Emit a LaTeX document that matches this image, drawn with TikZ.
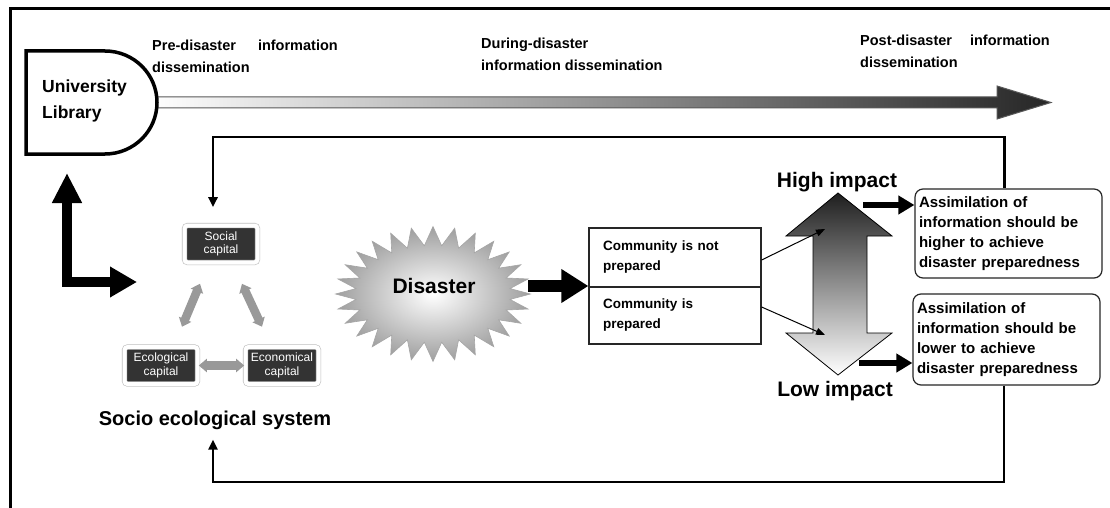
\documentclass[tikz,border=0pt]{standalone}
\usepackage{fontspec}
\setmainfont{Liberation Sans}
\usetikzlibrary{arrows.meta,shadows,calc}
\begin{document}
\begin{tikzpicture}[x=1pt,y=-1pt,
 lbl/.style={font=\bfseries\fontsize{14.5}{22.5}\selectfont, align=left, anchor=base west, inner sep=0pt},
 capbox/.style={fill=black!80, text=white, rounded corners=3pt, draw=gray!50, double=white, double distance=4pt, line width=0.6pt, minimum width=73pt, minimum height=37pt, inner sep=1pt, font=\fontsize{12}{13.5}\selectfont, align=center, drop shadow={opacity=0.3, shadow xshift=1pt, shadow yshift=-1.5pt}},
 grayarr/.style={draw=black!40, line width=8.5pt, {Triangle[length=8pt,width=13pt]}-{Triangle[length=8pt,width=13pt]}},
 loopline/.style={draw=black, line width=2.5pt},
 loopend/.style={-{Triangle[length=10pt,width=9pt]}},
 commbox/.style={draw=black!85, line width=1.2pt, minimum width=172pt, text width=144pt, inner xsep=14pt, align=left, font=\bfseries\fontsize{13.5}{20}\selectfont},
 assim/.style={draw=black!85, line width=1.2pt, rounded corners=8pt, text width=179pt, inner xsep=4pt, minimum height=89pt, align=left, font=\bfseries\fontsize{15}{20}\selectfont},
 impact/.style={font=\bfseries\fontsize{21}{24}\selectfont, inner sep=0pt},
 thickarr/.style={draw=black, line width=6pt, -{Triangle[length=16pt,width=18pt]}},
]
\useasboundingbox (0,0) rectangle (1110,508);
\fill[white] (0,0) rectangle (1110,508);
% frame
\draw[line width=3pt] (10,508) -- (10,8.5) -- (1110,8.5);

% top labels (anchor at baseline of last line)
\node[lbl] (pre) at (152,73) {Pre-disaster\hspace{22pt}information\\dissemination};
\node[lbl] (dur) at (481,71) {During-disaster\\information dissemination};
\node[lbl] (post) at (860,68) {Post-disaster\hspace{18pt}information\\dissemination};

% gradient arrow
\path[left color=white, right color=black!85, draw=black!65, line width=1pt]
 (150,97) -- (997,97) -- (997,86) -- (1051,102.5) -- (997,119) -- (997,108) -- (150,108) -- cycle;

% University library D shape
\draw[line width=3.5pt, fill=white] (26,51) -- (105,51)
  arc[start angle=-90, end angle=90, x radius=52, y radius=51.5] -- (26,154) -- cycle;
\node[font=\bfseries\fontsize{17.5}{26}\selectfont, align=left, anchor=base west, inner sep=0pt] (lib) at (42,119) {University\\Library};

% L arrow
\coordinate (Ltip) at (67,173);
\coordinate (Rtip) at (137,282);
\draw[line width=10pt, line join=miter, {Triangle[length=30pt,width=28pt]}-{Triangle[length=27pt,width=29pt]}] (Ltip) |- (Rtip);

% socio-ecological system
\node[capbox] (soc) at (221,244) {Social\\capital};
\node[capbox] (ecol) at (161,365.5) {Ecological\\capital};
\node[capbox] (econ) at (282,365.5) {Economical\\capital};
\draw[grayarr] ([xshift=-21pt,yshift=-21pt]soc.south) -- ([xshift=21pt,yshift=20pt]ecol.north);
\draw[grayarr] ([xshift=21pt,yshift=-21pt]soc.south) -- ([xshift=-20pt,yshift=20pt]econ.north);
\draw[grayarr, shorten <=1pt, shorten >=1pt] (ecol.east) -- (econ.west);
\node[font=\bfseries\fontsize{20}{24}\selectfont, inner sep=0pt] (ses) at (215,420) {Socio ecological system};

% disaster star
\coordinate (dc) at (433,294);
\shade[inner color=white, outer color=black!38, draw=black!35, line width=0.6pt, shift={(dc)}]
  plot[samples at={0,...,55}, variable=\q] ({cos(\q*6.4285714)*(97.5-20*mod(\q,2))}, {sin(\q*6.4285714)*(67.5-19*mod(\q,2))}) -- cycle;
\node[font=\bfseries\fontsize{21}{24}\selectfont, minimum width=188pt, inner sep=0pt] (dis) at (434,286) {Disaster};

% community boxes
\node[commbox, minimum height=59pt] (c1) at (675,257.5) {Community is not\\prepared};
\node[commbox, minimum height=57pt] (c2) at (675,315.5) {Community is\\prepared};
\draw[line width=12pt, -{Triangle[length=27pt,width=32pt]}] (dis.east) -- (dis.east -| c1.west);

% big double arrow
\path[top color=black!88, bottom color=white, draw=black, line width=0.8pt]
 (838,193) -- (892,236) -- (867,236) -- (867,333) -- (892,333) -- (838,375)
 -- (786,333) -- (813,333) -- (813,236) -- (786,236) -- cycle;
\node[impact] (hi) at (837,182) {High impact};
\node[impact] (lo) at (835,391) {Low impact};
\coordinate (hiT) at (825,229);
\coordinate (loT) at (825,335);
\draw[line width=1pt, -{Triangle[length=9pt,width=7pt]}] ([yshift=-2.5pt]c1.east) -- (hiT);
\draw[line width=1pt, -{Triangle[length=9pt,width=7pt]}] ([yshift=8.5pt]c2.east) -- (loT);

% assimilation boxes
\node[assim] (box1) at (1008.5,233.5) {Assimilation of\\information should be\\higher to achieve\\disaster preparedness};
\node[assim, minimum height=91pt] (box2) at (1006.5,339.5) {Assimilation of\\information should be\\lower to achieve\\disaster preparedness};
\coordinate (hiOut) at (863,205);
\coordinate (loOut) at (859,363);
\draw[thickarr] (hiOut) -- (hiOut -| box1.west);
\draw[thickarr] (loOut) -- (loOut -| box2.west);

% feedback loop
\coordinate (tl) at (213,137);
\coordinate (bl) at (213,482);
\draw[loopline, loopend, shorten >=18pt] ([xshift=-4pt]box1.north) |- (tl) -- (tl |- soc.north);
\draw[loopline, loopend, shorten >=10pt] ([xshift=-2.5pt]box2.south) |- (bl) -- (bl |- ses.south);
\end{tikzpicture}
\end{document}
